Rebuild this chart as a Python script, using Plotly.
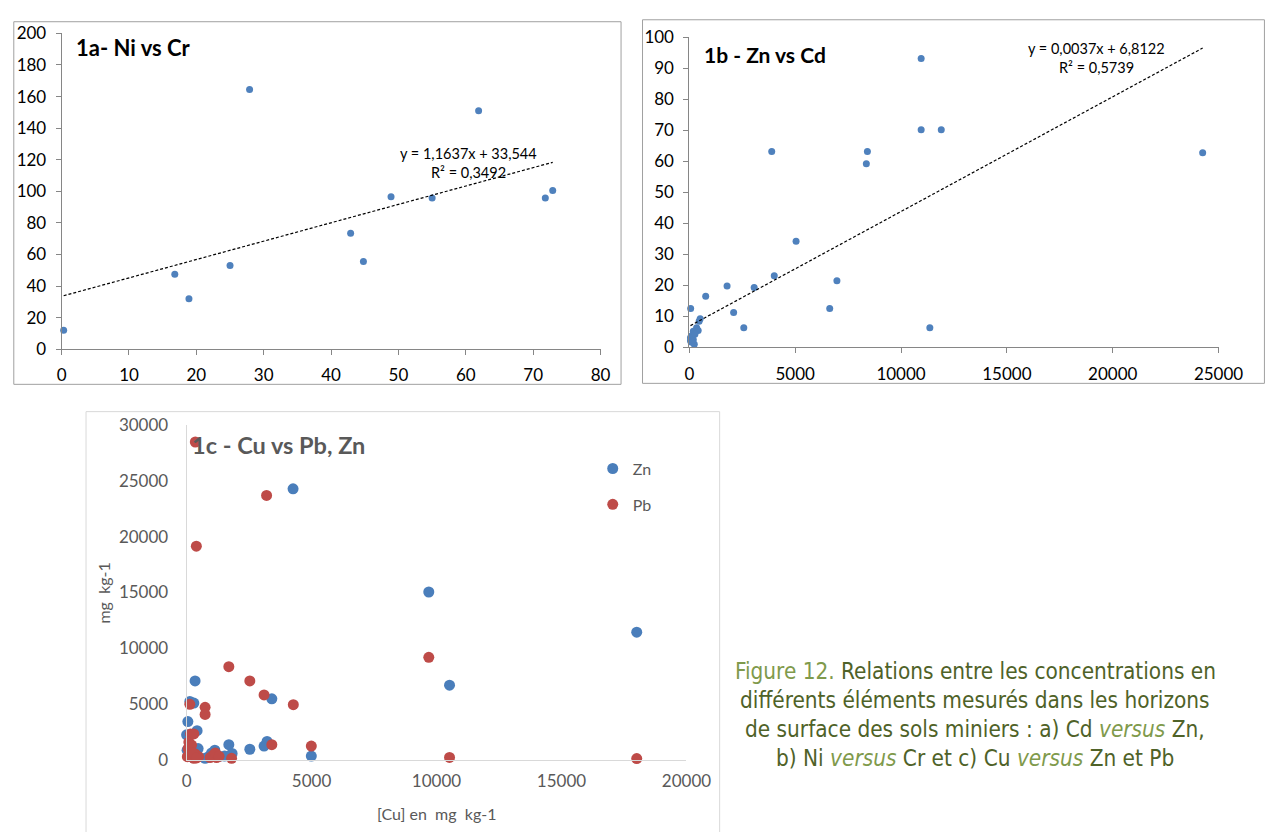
import plotly.graph_objects as go

W, H = 1266, 832

# ---------------- Data ----------------
# 1a - Ni vs Cr
cr_a = [0.3, 16.8, 18.9, 25.0, 27.9, 42.9, 44.8, 48.9, 55.0, 61.9, 71.8, 72.9]
ni_a = [12.0, 47.5, 32.0, 53.0, 164.5, 73.5, 55.5, 96.5, 95.8, 151.0, 95.8, 100.6]
fit_a = [1.1637, 33.544]   # slope, intercept
eq_a = ["y = 1,1637x + 33,544", "R² = 0,3492"]

# 1b - Zn vs Cd
zn_b = [60, 10950, 10950, 11900, 3890, 8410, 8360, 5040, 4010, 6970, 1780, 3060,
        770, 2090, 6630, 2570, 11360, 24250, 510, 460, 340, 415, 185, 110, 50, 50,
        185, 230, 110, 260]
cd_b = [12.5, 93.2, 70.2, 70.2, 63.2, 63.2, 59.2, 34.2, 23.1, 21.5, 19.8, 19.3,
        16.5, 11.2, 12.5, 6.3, 6.3, 62.8, 9.2, 8.4, 6.3, 5.4, 5.2, 3.7, 3.1, 2.1,
        2.4, 1.0, 1.6, 4.2]
fit_b = [0.0037, 6.8122]
eq_b = ["y = 0,0037x + 6,8122", "R² = 0,5739"]

# 1c - Cu vs Pb, Zn
cu_zn = [4260, 9690, 18010, 10520, 340, 130, 290, 3410, 50, 420, 0, 1690, 2530,
         3100, 3220, 4990, 1130, 1520, 1820, 740, 460, 20, 420, 150, 60, 250, 900,
         1000, 1300]
zn_c = [24300, 15040, 11430, 6680, 7060, 5220, 5070, 5450, 3410, 2600, 2220, 1340,
        930, 1220, 1630, 320, 850, 320, 550, 120, 990, 850, 410, 500, 300, 200, 300,
        600, 300]
cu_pb = [350, 3200, 390, 1690, 2530, 3100, 4270, 130, 740, 740, 3410, 4990, 1800,
         9690, 10520, 18010, 160, 90, 290, 130, 30, 290, 480, 1070, 1200, 940, 60,
         200, 350, 100, 250, 1150, 1300, 400]
pb_c = [28500, 23700, 19150, 8340, 7060, 5800, 4930, 4960, 4690, 4050, 1340, 1220,
        120, 9180, 200, 90, 2300, 1570, 2300, 700, 260, 120, 260, 410, 180, 180, 1000,
        1300, 500, 400, 600, 600, 300, 150]

titles = ["1a- Ni vs Cr", "1b - Zn vs Cd", "1c - Cu vs Pb, Zn"]
LIGHT = "#7f9a4c"
caption = [
    '<span style="color:%s">Figure 12.</span> Relations entre les concentrations en' % LIGHT,
    'différents éléments mesurés dans les horizons',
    'de surface des sols miniers : a) Cd <i><span style="color:%s">versus</span></i> Zn,' % LIGHT,
    'b) Ni <i><span style="color:%s">versus</span></i> Cr et c) Cu <i><span style="color:%s">versus</span></i> Zn et Pb' % (LIGHT, LIGHT),
]


def px(x):
    return x / W


def py(y):
    return 1 - y / H


FONT = "Lato"
CAPFONT = "DejaVu Sans Condensed, Liberation Sans Narrow, Roboto, sans-serif"
BLUE = "#4f81bd"

fig = go.Figure()

# 1a
fig.add_trace(go.Scatter(x=cr_a, y=ni_a, mode="markers", xaxis="x", yaxis="y",
                         marker=dict(color=BLUE, size=7), showlegend=False, cliponaxis=False))
xa = [min(cr_a), max(cr_a)]
fig.add_trace(go.Scatter(x=xa, y=[fit_a[0] * v + fit_a[1] for v in xa], mode="lines",
                         xaxis="x", yaxis="y", line=dict(color="black", width=1.2, dash="3px,2px"),
                         showlegend=False))
# 1b
fig.add_trace(go.Scatter(x=zn_b, y=cd_b, mode="markers", xaxis="x2", yaxis="y2",
                         marker=dict(color=BLUE, size=7), showlegend=False, cliponaxis=False))
xb = [min(zn_b), max(zn_b)]
fig.add_trace(go.Scatter(x=xb, y=[fit_b[0] * v + fit_b[1] for v in xb], mode="lines",
                         xaxis="x2", yaxis="y2", line=dict(color="black", width=1.2, dash="3px,2px"),
                         showlegend=False))
# 1c
fig.add_trace(go.Scatter(x=cu_zn, y=zn_c, mode="markers", name="Zn", xaxis="x3", yaxis="y3",
                         marker=dict(color="#4a7ebb", size=11), legendgroup="zn", cliponaxis=False))
fig.add_trace(go.Scatter(x=cu_pb, y=pb_c, mode="markers", name="Pb", xaxis="x3", yaxis="y3",
                         marker=dict(color="#be4b48", size=11), legendgroup="pb", cliponaxis=False))

axA = dict(showgrid=False, zeroline=False, showline=True, linecolor="#868686", linewidth=1,
           ticks="outside", ticklen=5, tickcolor="#868686", tickformat="d",
           tickfont=dict(family=FONT, size=17, color="black"))
axC = dict(showgrid=False, zeroline=False, showline=True, linecolor="#d9d9d9", linewidth=1,
           ticks="", tickformat="d", tickfont=dict(family=FONT, size=17, color="#595959"))

fig.update_layout(
    width=W, height=H, margin=dict(l=0, r=0, t=0, b=0),
    paper_bgcolor="white", plot_bgcolor="white",
    xaxis=dict(axA, domain=[px(58), px(610)], range=[0, 80], dtick=10, anchor="y",
               ticklabelstandoff=5),
    yaxis=dict(axA, domain=[py(347), py(23)], range=[0, 200], dtick=20, anchor="x",
               ticklabelstandoff=6),
    xaxis2=dict(axA, domain=[px(701), px(1243)], range=[0, 25000], dtick=5000, anchor="y2",
                ticklabelstandoff=6),
    yaxis2=dict(axA, domain=[py(345), py(27)], range=[0, 100], dtick=10, anchor="x2",
                ticklabelstandoff=6),
    xaxis3=dict(axC, domain=[px(186), px(698)], range=[0, 20000], dtick=5000, anchor="y3",
                ticklabelstandoff=6),
    yaxis3=dict(axC, domain=[py(768), py(425)], range=[0, 30000], dtick=5000, anchor="x3",
                ticklabelstandoff=14),
    legend=dict(x=px(602), y=py(452), xanchor="left", yanchor="top",
                font=dict(family=FONT, size=16, color="#595959"),
                tracegroupgap=12, bgcolor="rgba(0,0,0,0)"),
    shapes=[
        dict(type="rect", xref="paper", yref="paper", x0=px(9), x1=px(631), y0=py(383), y1=py(11),
             line=dict(color="#a0a0a0", width=1)),
        dict(type="rect", xref="paper", yref="paper", x0=px(653), x1=px(1290), y0=py(382), y1=py(9),
             line=dict(color="#a0a0a0", width=1)),
        dict(type="rect", xref="paper", yref="paper", x0=px(83), x1=px(732), y0=py(860), y1=py(411),
             line=dict(color="#d9d9d9", width=1)),
    ],
)

ann = []
ann.append(dict(text="<b>%s</b>" % titles[0], xref="paper", yref="paper", x=px(71), y=py(37),
                xanchor="left", yanchor="middle", showarrow=False,
                font=dict(family=FONT, size=22, color="black")))
ann.append(dict(text="<b>%s</b>" % titles[1], xref="paper", yref="paper", x=px(714), y=py(45),
                xanchor="left", yanchor="middle", showarrow=False,
                font=dict(family=FONT, size=21, color="black")))
ann.append(dict(text="<b>%s</b>" % titles[2], xref="paper", yref="paper", x=px(189), y=py(445),
                xanchor="left", yanchor="middle", showarrow=False,
                font=dict(family=FONT, size=23.5, color="#595959")))
# equations
for i, t in enumerate(eq_a):
    ann.append(dict(text=t, xref="paper", yref="paper", x=px(475), y=py(146 + 20 * i),
                    xanchor="center", yanchor="middle", showarrow=False,
                    font=dict(family=FONT, size=14.5, color="black")))
for i, t in enumerate(eq_b):
    ann.append(dict(text=t, xref="paper", yref="paper", x=px(1118), y=py(38 + 20 * i),
                    xanchor="center", yanchor="middle", showarrow=False,
                    font=dict(family=FONT, size=14.5, color="black")))
# axis titles 1c
ann.append(dict(text="mg  kg-1", xref="paper", yref="paper", x=px(101), y=py(597),
                xanchor="center", yanchor="middle", textangle=-90, showarrow=False,
                font=dict(family=FONT, size=16, color="#595959")))
ann.append(dict(text="[Cu] en  mg  kg-1", xref="paper", yref="paper", x=px(442), y=py(823),
                xanchor="center", yanchor="middle", showarrow=False,
                font=dict(family=FONT, size=16, color="#595959")))
# caption
for i, t in enumerate(caption):
    ann.append(dict(text=t, xref="paper", yref="paper", x=px(994), y=py(677 + 29.7 * i),
                    xanchor="center", yanchor="middle", showarrow=False,
                    font=dict(family=CAPFONT, size=22.4, color="#4f6228")))
fig.update_layout(annotations=ann)

fig.write_html(
    "out.html",
    config={"displayModeBar": False},
    post_script=(
        "document.documentElement.style.margin='0';"
        "document.body.style.margin='0';"
        "document.body.style.overflow='hidden';"
        "document.documentElement.style.overflow='hidden';"
    ),
)
